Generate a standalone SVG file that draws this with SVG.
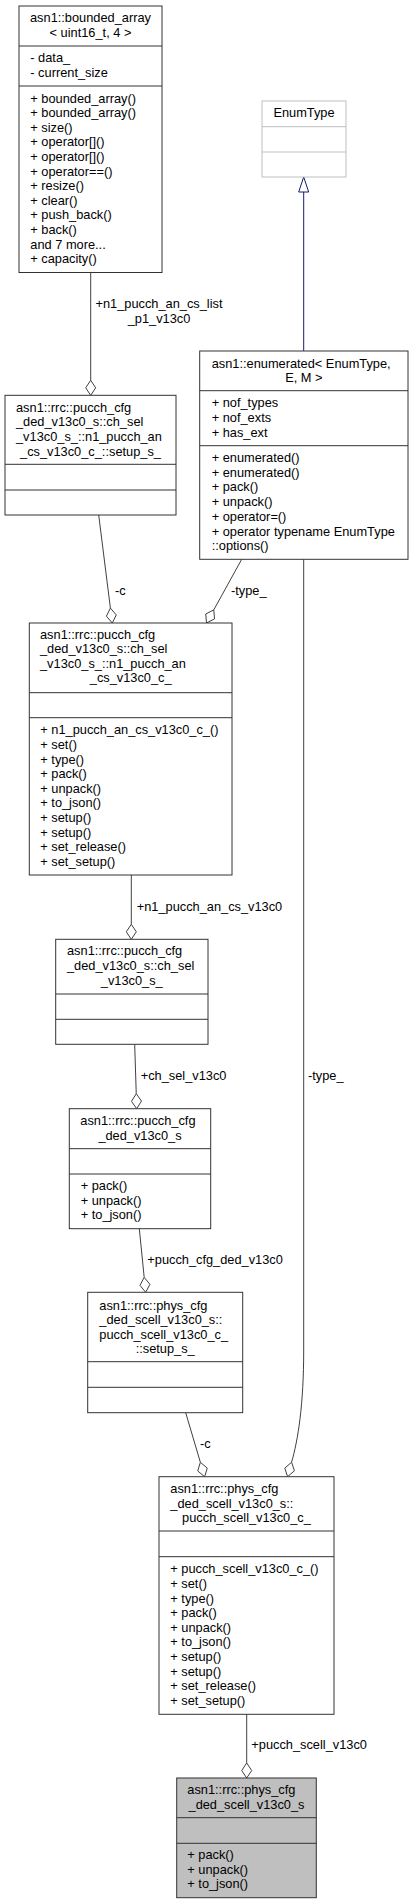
<svg xmlns="http://www.w3.org/2000/svg" width="413" height="1904" viewBox="0 0 413 1904">
<style>
text{font-family:"Liberation Sans",Arial,sans-serif;font-size:12.8px;fill:#000}
.m{text-anchor:middle}
.box{fill:#fff;stroke:#333;stroke-width:1}
.gray{fill:#bfbfbf;stroke:#333;stroke-width:1}
.light{fill:#fff;stroke:#bfbfbf;stroke-width:1}
.sep{stroke:#333;stroke-width:1}
.lsep{stroke:#bfbfbf;stroke-width:1}
.e{fill:none;stroke:#404040;stroke-width:1}
.d{fill:#fff;stroke:#404040;stroke-width:1}
.inh{fill:none;stroke:#191970;stroke-width:1}
.tri{fill:#fff;stroke:#191970;stroke-width:1}
</style>
<rect width="413" height="1904" fill="#fff"/>
<g id="connectors">
<path class="e" d="M90.7,272.5 V380.3"/>
<polygon class="d" points="90.7,395.3 95.7,387.8 90.7,380.3 85.7,387.8"/>
<text x="159" y="308.3" class="m">+n1_pucch_an_cs_list</text>
<text x="159" y="323.3" class="m">_p1_v13c0</text>
<path class="inh" d="M303.7,192 V351"/>
<polygon class="tri" points="303.7,177 308.7,192 298.7,192"/>
<path class="e" d="M98.7,515 L110.4,608.1"/>
<polygon class="d" points="112.3,623 116.3,614.9 110.4,608.1 106.4,616.2"/>
<text x="115" y="595.3">-c</text>
<path class="e" d="M241.7,559.3 L213.75,609.9"/>
<polygon class="d" points="206.5,623 214.5,618.9 213.75,609.9 205.75,614"/>
<text x="231" y="595.3">-type_</text>
<path class="e" d="M131.3,875 V924.3"/>
<polygon class="d" points="131.3,939.3 136.3,931.8 131.3,924.3 126.3,931.8"/>
<text x="136.7" y="911">+n1_pucch_an_cs_v13c0</text>
<path class="e" d="M134.7,1044.3 L136.24,1093.7"/>
<polygon class="d" points="136.7,1108.7 141.47,1101.05 136.24,1093.7 131.47,1101.35"/>
<text x="140.7" y="1080">+ch_sel_v13c0</text>
<path class="e" d="M139.3,1228.7 L144.2,1277.4"/>
<polygon class="d" points="145.7,1292.3 149.93,1284.34 144.2,1277.4 139.97,1285.34"/>
<text x="147.3" y="1264">+pucch_cfg_ded_v13c0</text>
<path class="e" d="M185.7,1412.7 L200.36,1462.3"/>
<polygon class="d" points="204.6,1476.7 207.28,1468.1 200.36,1462.3 197.69,1470.93"/>
<text x="200" y="1448.3">-c</text>
<path class="e" d="M303.7,559.3 V1350 C303.7,1405 298,1440 291.6,1462.2"/>
<polygon class="d" points="287.6,1476.7 294.42,1470.8 291.59,1462.24 284.78,1468.14"/>
<text x="308" y="1080">-type_</text>
<path class="e" d="M246.7,1714.3 V1763"/>
<polygon class="d" points="246.7,1778 251.7,1770.5 246.7,1763 241.7,1770.5"/>
<text x="251.3" y="1748.6">+pucch_scell_v13c0</text>
</g>
<g id="bounded_array">
<rect class="box" x="19" y="6" width="143" height="266.5"/>
<line class="sep" x1="19" y1="46" x2="162" y2="46"/>
<line class="sep" x1="19" y1="86" x2="162" y2="86"/>
<text x="30" y="22">asn1::bounded_array</text>
<text x="90.5" y="36.5" class="m">&lt; uint16_t, 4 &gt;</text>
<text x="30.3" y="62">- data_</text>
<text x="30.3" y="76.6">- current_size</text>
<text x="30.3" y="102.6">+ bounded_array()</text>
<text x="30.3" y="117.2">+ bounded_array()</text>
<text x="30.3" y="131.8">+ size()</text>
<text x="30.3" y="146.4">+ operator[]()</text>
<text x="30.3" y="161">+ operator[]()</text>
<text x="30.3" y="175.6">+ operator==()</text>
<text x="30.3" y="190.2">+ resize()</text>
<text x="30.3" y="204.8">+ clear()</text>
<text x="30.3" y="219.4">+ push_back()</text>
<text x="30.3" y="234">+ back()</text>
<text x="30.3" y="248.6">and 7 more...</text>
<text x="30.3" y="263.2">+ capacity()</text>
</g>
<g id="EnumType">
<rect class="light" x="262" y="101" width="84" height="76"/>
<line class="lsep" x1="262" y1="126.7" x2="346" y2="126.7"/>
<line class="lsep" x1="262" y1="152" x2="346" y2="152"/>
<text x="304" y="117" class="m">EnumType</text>
</g>
<g id="setup_s">
<rect class="box" x="5" y="395.3" width="171" height="119.7"/>
<line class="sep" x1="5" y1="464.3" x2="176" y2="464.3"/>
<line class="sep" x1="5" y1="490" x2="176" y2="490"/>
<text x="16" y="411.6">asn1::rrc::pucch_cfg</text>
<text x="16" y="426.3">_ded_v13c0_s::ch_sel</text>
<text x="16" y="441">_v13c0_s_::n1_pucch_an</text>
<text x="90.5" y="455.6" class="m">_cs_v13c0_c_::setup_s_</text>
</g>
<g id="enumerated">
<rect class="box" x="199.7" y="351" width="208.3" height="208.3"/>
<line class="sep" x1="199.7" y1="390.7" x2="408" y2="390.7"/>
<line class="sep" x1="199.7" y1="445.7" x2="408" y2="445.7"/>
<text x="211.7" y="367.6">asn1::enumerated&lt; EnumType,</text>
<text x="303.8" y="382" class="m">E, M &gt;</text>
<text x="211.7" y="407">+ nof_types</text>
<text x="211.7" y="421.8">+ nof_exts</text>
<text x="211.7" y="436.6">+ has_ext</text>
<text x="211.7" y="462">+ enumerated()</text>
<text x="211.7" y="476.7">+ enumerated()</text>
<text x="211.7" y="491.4">+ pack()</text>
<text x="211.7" y="506.1">+ unpack()</text>
<text x="211.7" y="520.8">+ operator=()</text>
<text x="211.7" y="535.5">+ operator typename EnumType</text>
<text x="211.7" y="550.2">::options()</text>
</g>
<g id="n1_pucch_an_cs_v13c0_c">
<rect class="box" x="29.3" y="623" width="202.7" height="252"/>
<line class="sep" x1="29.3" y1="692.7" x2="232" y2="692.7"/>
<line class="sep" x1="29.3" y1="717.7" x2="232" y2="717.7"/>
<text x="40" y="638.6">asn1::rrc::pucch_cfg</text>
<text x="40" y="653.2">_ded_v13c0_s::ch_sel</text>
<text x="40" y="667.8">_v13c0_s_::n1_pucch_an</text>
<text x="130.7" y="682.4" class="m">_cs_v13c0_c_</text>
<text x="40.3" y="734.3">+ n1_pucch_an_cs_v13c0_c_()</text>
<text x="40.3" y="748.9">+ set()</text>
<text x="40.3" y="763.5">+ type()</text>
<text x="40.3" y="778.1">+ pack()</text>
<text x="40.3" y="792.7">+ unpack()</text>
<text x="40.3" y="807.3">+ to_json()</text>
<text x="40.3" y="821.9">+ setup()</text>
<text x="40.3" y="836.5">+ setup()</text>
<text x="40.3" y="851.1">+ set_release()</text>
<text x="40.3" y="865.7">+ set_setup()</text>
</g>
<g id="ch_sel_v13c0_s">
<rect class="box" x="55.7" y="939.3" width="152.3" height="105"/>
<line class="sep" x1="55.7" y1="994" x2="208" y2="994"/>
<line class="sep" x1="55.7" y1="1019.3" x2="208" y2="1019.3"/>
<text x="67" y="955.3">asn1::rrc::pucch_cfg</text>
<text x="67" y="970">_ded_v13c0_s::ch_sel</text>
<text x="131.8" y="984.6" class="m">_v13c0_s_</text>
</g>
<g id="pucch_cfg_ded_v13c0_s">
<rect class="box" x="69.3" y="1108.7" width="141.4" height="120"/>
<line class="sep" x1="69.3" y1="1148.7" x2="210.7" y2="1148.7"/>
<line class="sep" x1="69.3" y1="1174" x2="210.7" y2="1174"/>
<text x="80.3" y="1125">asn1::rrc::pucch_cfg</text>
<text x="140" y="1139.5" class="m">_ded_v13c0_s</text>
<text x="80.7" y="1190">+ pack()</text>
<text x="80.7" y="1205">+ unpack()</text>
<text x="80.7" y="1219.3">+ to_json()</text>
</g>
<g id="pucch_scell_setup_s">
<rect class="box" x="87.7" y="1292.3" width="155" height="120.4"/>
<line class="sep" x1="87.7" y1="1361.7" x2="242.7" y2="1361.7"/>
<line class="sep" x1="87.7" y1="1387.3" x2="242.7" y2="1387.3"/>
<text x="99.3" y="1309.6">asn1::rrc::phys_cfg</text>
<text x="99.3" y="1324">_ded_scell_v13c0_s::</text>
<text x="99.3" y="1338.6">pucch_scell_v13c0_c_</text>
<text x="165.2" y="1353" class="m">::setup_s_</text>
</g>
<g id="pucch_scell_v13c0_c">
<rect class="box" x="159" y="1476.7" width="175" height="237.6"/>
<line class="sep" x1="159" y1="1531" x2="334" y2="1531"/>
<line class="sep" x1="159" y1="1556.7" x2="334" y2="1556.7"/>
<text x="170.3" y="1493.3">asn1::rrc::phys_cfg</text>
<text x="170.3" y="1508">_ded_scell_v13c0_s::</text>
<text x="246.5" y="1522.3" class="m">pucch_scell_v13c0_c_</text>
<text x="170.3" y="1573.3">+ pucch_scell_v13c0_c_()</text>
<text x="170.3" y="1587.9">+ set()</text>
<text x="170.3" y="1602.5">+ type()</text>
<text x="170.3" y="1617.1">+ pack()</text>
<text x="170.3" y="1631.7">+ unpack()</text>
<text x="170.3" y="1646.3">+ to_json()</text>
<text x="170.3" y="1660.9">+ setup()</text>
<text x="170.3" y="1675.5">+ setup()</text>
<text x="170.3" y="1690.1">+ set_release()</text>
<text x="170.3" y="1704.7">+ set_setup()</text>
</g>
<g id="phys_cfg_ded_scell_v13c0_s">
<rect class="gray" x="176.7" y="1778" width="139.6" height="119.7"/>
<line class="sep" x1="176.7" y1="1817.7" x2="316.3" y2="1817.7"/>
<line class="sep" x1="176.7" y1="1843.3" x2="316.3" y2="1843.3"/>
<text x="187.3" y="1794.3">asn1::rrc::phys_cfg</text>
<text x="246.5" y="1809.3" class="m">_ded_scell_v13c0_s</text>
<text x="187.3" y="1859.3">+ pack()</text>
<text x="187.3" y="1874">+ unpack()</text>
<text x="187.3" y="1888.3">+ to_json()</text>
</g>
</svg>
